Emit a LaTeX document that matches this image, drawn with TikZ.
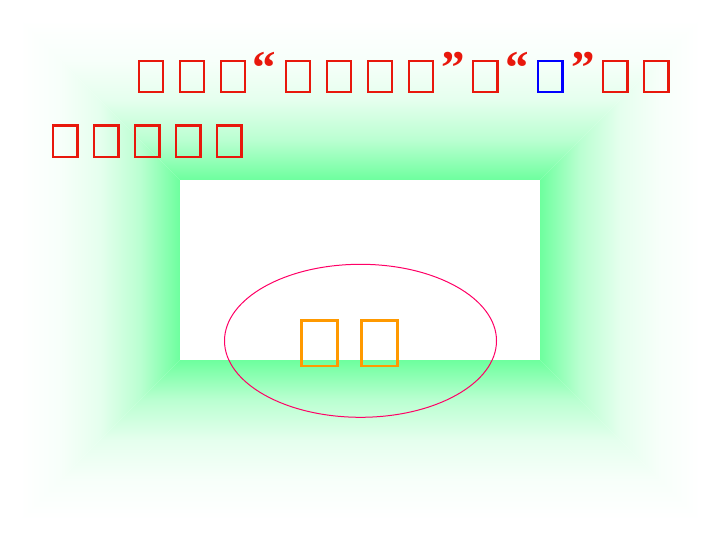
\documentclass[tikz,border=0pt]{standalone}
\usepackage{fontspec}
\usetikzlibrary{shapes.geometric}
\newfontfamily\quotefont{Liberation Serif}[BoldFont={Liberation Serif Bold}]
\definecolor{gfull}{RGB}{102,255,153}
\definecolor{titlered}{RGB}{232,24,12}
\definecolor{tofublue}{RGB}{0,0,255}
\definecolor{tofuorange}{RGB}{255,153,0}
\definecolor{ovalred}{RGB}{255,0,102}
\pgfdeclareverticalshading{framefade}{100bp}{%
  color(0bp)=(gfull!95!white); color(25bp)=(gfull!95!white);
  color(37.5bp)=(gfull!45!white); color(50bp)=(gfull!17!white);
  color(62.5bp)=(gfull!5!white); color(75bp)=(white); color(100bp)=(white)}
\tikzset{
  band/.style={shading=framefade, draw=none},
  tofu/.style={draw=titlered, line width=2.2bp, rectangle, inner sep=0pt,
    minimum width=24.3bp, minimum height=31.2bp, anchor=north west},
  tofublue/.style={tofu, draw=tofublue},
  tofubig/.style={draw=tofuorange, line width=2.8bp, rectangle, inner sep=0pt,
    minimum width=36.2bp, minimum height=45.9bp, anchor=north west},
  qmark/.style={text=titlered, inner sep=0pt, anchor=base west,
    font=\quotefont\bfseries\fontsize{47bp}{47bp}\selectfont},
}
\begin{document}
\begin{tikzpicture}[x=1bp,y=-1bp]
\useasboundingbox (0,0) rectangle (720,540);
\fill[white] (0,0) rectangle (720,540);
% shaded frame
\shade[band, shading angle=0]   (20,20) -- (700,20) -- (540,180) -- (180,180) -- cycle;
\shade[band, shading angle=180] (20,520) -- (700,520) -- (540,360) -- (180,360) -- cycle;
\shade[band, shading angle=90]  (20,20) -- (180,180) -- (180,360) -- (20,520) -- cycle;
\shade[band, shading angle=270] (700,20) -- (540,180) -- (540,360) -- (700,520) -- cycle;
\fill[white] (180,180) rectangle (540,360);
% title line 1
\node[tofu] (t1) at (137.6,60.1) {};
\node[tofu] (t2) at (178.6,60.1) {};
\node[tofu] (t3) at (219.6,60.1) {};
\node[qmark] (q1) at (252.5,83.5) {“};
\node[tofu] (t4) at (284.6,60.1) {};
\node[tofu] (t5) at (325.6,60.1) {};
\node[tofu] (t6) at (366.6,60.1) {};
\node[tofu] (t7) at (407.6,60.1) {};
\node[qmark] (q2) at (441,83.5) {”};
\node[tofu] (t8) at (472.1,60.1) {};
\node[qmark] (q3) at (505.2,83.5) {“};
\node[tofublue] (t9) at (537.1,60.1) {};
\node[qmark] (q4) at (571,83.5) {”};
\node[tofu] (t10) at (602.1,60.1) {};
\node[tofu] (t11) at (643.1,60.1) {};
% title line 2
\node[tofu] (u1) at (52.1,124.4) {};
\node[tofu] (u2) at (93.1,124.4) {};
\node[tofu] (u3) at (134.1,124.4) {};
\node[tofu] (u4) at (175.1,124.4) {};
\node[tofu] (u5) at (216.1,124.4) {};
% oval with two characters
\node[ellipse, draw=ovalred, line width=1bp, minimum width=272bp,
  minimum height=153bp, inner sep=0pt] (oval) at (360.5,340.8) {};
\node[tofubig] (w1) at (299.7,318.7) {};
\node[tofubig] (w2) at (359.7,318.7) {};
\end{tikzpicture}
\end{document}
